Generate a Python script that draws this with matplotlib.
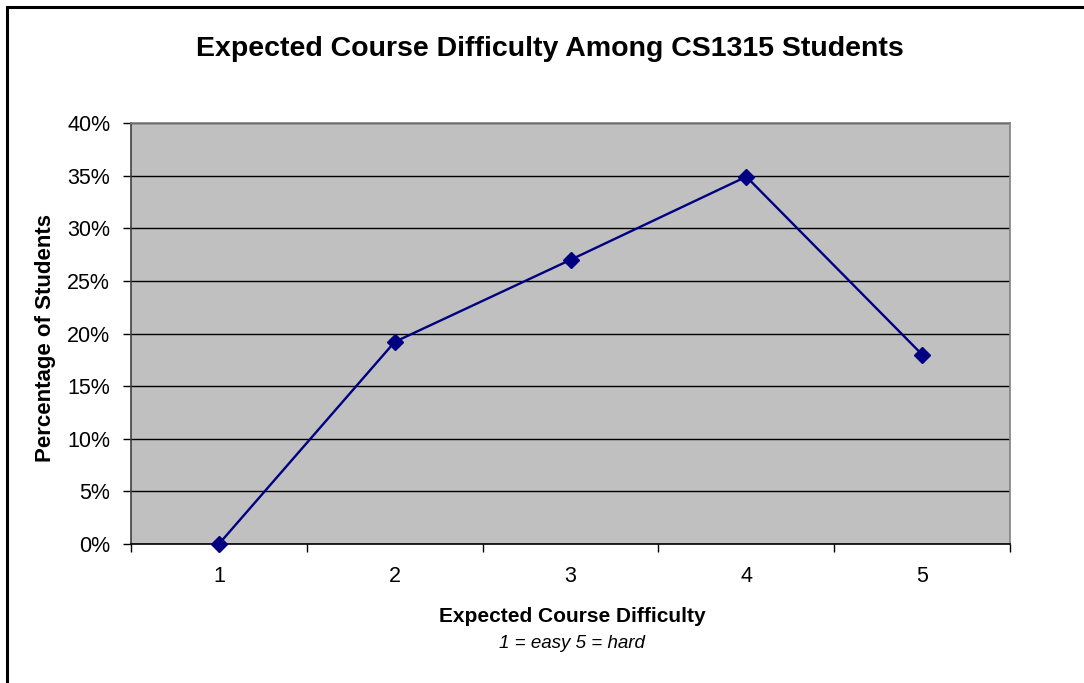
import matplotlib
matplotlib.use("Agg")
import matplotlib.pyplot as plt
from matplotlib.ticker import FixedLocator, PercentFormatter
from matplotlib.patches import Rectangle

plt.rcParams['font.family'] = ['Liberation Sans', 'DejaVu Sans']

categories = ["1", "2", "3", "4", "5"]
percent_students = [0.0, 19.2, 27.0, 34.9, 18.0]

title = "Expected Course Difficulty Among CS1315 Students"
xlabel = "Expected Course Difficulty"
subtitle = "1 = easy 5 = hard"
ylabel = "Percentage of Students"

W, H = 1084, 683
fig = plt.figure(figsize=(W / 100, H / 100), dpi=100)
fig.patch.set_facecolor("white")

# outer chart border (left/top visible, right/bottom cut off)
fig.add_artist(Rectangle((7 / W, -0.05), 1.2, 1 - 7 / H + 0.05, transform=fig.transFigure,
                         fill=False, edgecolor="black", linewidth=2.2))

left, right, top, bottom = 131, 1010, 123, 544
ax = fig.add_axes([left / W, 1 - bottom / H, (right - left) / W, (bottom - top) / H])
ax.set_facecolor("#C0C0C0")

x = list(range(len(categories)))
ax.plot(x, percent_students, color="#000080", linewidth=1.7, marker="D",
        markersize=8.5, markerfacecolor="#000080", markeredgecolor="#000080",
        zorder=3, clip_on=False)

ax.set_xlim(-0.5, len(categories) - 0.5)
ax.set_ylim(0, 40)
ax.yaxis.set_major_locator(FixedLocator([0, 5, 10, 15, 20, 25, 30, 35, 40]))
ax.yaxis.set_major_formatter(PercentFormatter(decimals=0))
ax.grid(axis="y", color="black", linewidth=1.0)
ax.set_axisbelow(True)

# x ticks at boundaries, labels at centers
ax.set_xticks([i - 0.5 for i in range(len(categories) + 1)])
ax.set_xticklabels([])
ax.set_xticks(x, minor=True)
ax.set_xticklabels(categories, minor=True, fontsize=15.5)
ax.tick_params(axis="x", which="minor", length=0, pad=16)
ax.tick_params(axis="x", which="major", length=6, width=1, color="black", direction="out")
ax.tick_params(axis="y", length=6, width=1, color="black", direction="out", labelsize=15.5, pad=9)

for s in ["top", "right"]:
    ax.spines[s].set_color("#808080")
    ax.spines[s].set_linewidth(1.2)
ax.spines["left"].set_color("#404040")
ax.spines["left"].set_linewidth(1.2)
ax.spines["bottom"].set_color("black")
ax.spines["bottom"].set_linewidth(1.2)

fig.text(550 / W, 1 - 49 / H, title, ha="center", va="center",
         fontsize=20.5, fontweight="bold")
fig.text(572 / W, 1 - 617 / H, xlabel, ha="center", va="center",
         fontsize=15, fontweight="bold")
fig.text(572 / W, 1 - 643 / H, subtitle, ha="center", va="center",
         fontsize=13.5, fontstyle="italic")
fig.text(46 / W, 1 - 338 / H, ylabel, ha="center", va="center", rotation=90,
         fontsize=16, fontweight="bold")

fig.savefig("out.png", dpi=100)
